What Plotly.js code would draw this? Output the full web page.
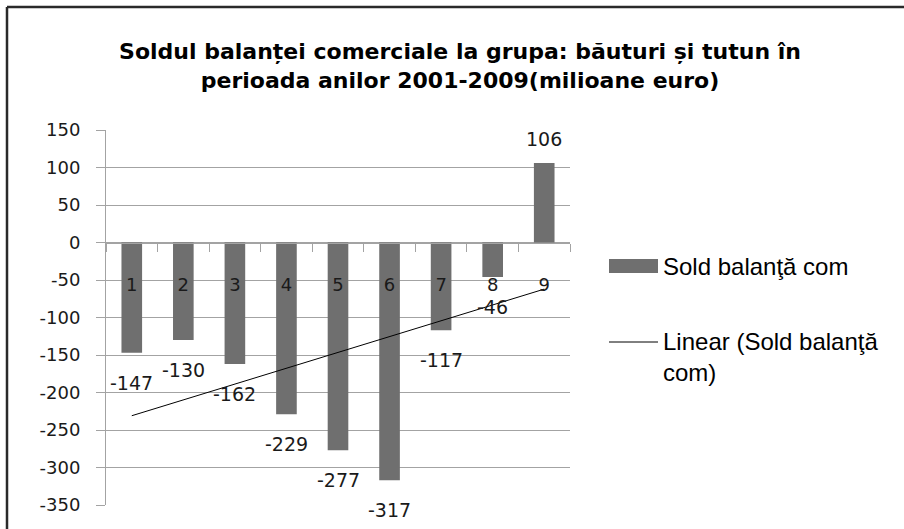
<!DOCTYPE html>
<html>
<head>
<meta charset="utf-8">
<script src="https://cdn.plot.ly/plotly-3.0.1.min.js"></script>
<style>
  html, body { margin: 0; padding: 0; background: #fff; }
  #chart { width: 904px; height: 529px; }
</style>
</head>
<body>
<div id="chart"></div>
<script>
const categories = ['1', '2', '3', '4', '5', '6', '7', '8', '9'];
const values = [-147, -130, -162, -229, -277, -317, -117, -46, 106];
const yTicks = [150, 100, 50, 0, -50, -100, -150, -200, -250, -300, -350];
const seriesName = 'Sold balanţă com';
const trendName = 'Linear (Sold balanţă com)';
const titleText = 'Soldul balanței comerciale la grupa: băuturi și tutun în<br>perioada anilor 2001-2009(milioane euro)';

// Linear trendline (least squares over x = 1..n), as Excel does
const n = values.length;
const xs = values.map((_, i) => i + 1);
const mx = xs.reduce((a, b) => a + b, 0) / n;
const my = values.reduce((a, b) => a + b, 0) / n;
let sxy = 0, sxx = 0;
for (let i = 0; i < n; i++) { sxy += (xs[i] - mx) * (values[i] - my); sxx += (xs[i] - mx) ** 2; }
const slope = sxy / sxx;
const intercept = my - slope * mx;
const trend = xs.map(x => intercept + slope * x);

// layout geometry
const L = 106, R = 570, T = 130, B = 505, W = 904, H = 529;
const px = p => (p - L) / (R - L);
const py = p => (B - p) / (B - T);

const barColor = '#6f6f6f';
const gridColor = '#a3a3a3';
const numFont = { family: 'DejaVu Sans, sans-serif', size: 18, color: '#1a1a1a' };

const traces = [
  {
    type: 'bar', x: categories, y: values, name: seriesName,
    marker: { color: barColor }, showlegend: false, hoverinfo: 'x+y'
  },
  {
    type: 'scatter', mode: 'lines', x: categories, y: trend, name: trendName,
    line: { color: '#000', width: 1 }, showlegend: false, hoverinfo: 'skip'
  }
];

// data labels (category axis: position by category index)
const annotations = values.map((v, i) => ({
  x: i, y: v, xref: 'x', yref: 'y',
  text: String(v), showarrow: false,
  yshift: v < 0 ? -30 : 24,
  font: { family: 'DejaVu Sans, sans-serif', size: 19, color: '#1a1a1a' }
}));

annotations.push({
  xref: 'paper', yref: 'paper', x: px(661), y: py(266), xanchor: 'left', yanchor: 'middle',
  text: seriesName, showarrow: false, align: 'left',
  font: { family: 'Liberation Sans, Arial, sans-serif', size: 24, color: '#000' }
});
annotations.push({
  xref: 'paper', yref: 'paper', x: px(661), y: py(357), xanchor: 'left', yanchor: 'middle',
  text: 'Linear (Sold balanţă<br>com)', showarrow: false, align: 'left',
  font: { family: 'Liberation Sans, Arial, sans-serif', size: 24, color: '#000' }
});

const shapes = [
  // chart frame (left and top edges)
  { type: 'line', xref: 'paper', yref: 'paper', x0: px(7), x1: px(7), y0: py(H + 5), y1: py(7), line: { color: '#2a2a2a', width: 2.5 } },
  { type: 'line', xref: 'paper', yref: 'paper', x0: px(7), x1: px(W + 5), y0: py(7), y1: py(7), line: { color: '#2a2a2a', width: 2.5 } },
  // legend symbols
  { type: 'rect', xref: 'paper', yref: 'paper', x0: px(609), x1: px(658), y0: py(273), y1: py(259), fillcolor: barColor, line: { width: 0 } },
  { type: 'line', xref: 'paper', yref: 'paper', x0: px(609), x1: px(658), y0: py(342), y1: py(342), line: { color: '#000', width: 1 } }
];

const layout = {
  width: W, height: H,
  margin: { l: L, r: W - R, t: T, b: H - B, pad: 0 },
  paper_bgcolor: '#fff', plot_bgcolor: '#fff',
  title: {
    text: titleText, xref: 'paper', x: px(460), xanchor: 'center',
    yref: 'container', y: 1 - 59 / H, yanchor: 'middle',
    font: { family: 'DejaVu Sans, sans-serif', size: 22, color: '#000', weight: 'bold' }
  },
  bargap: 0.6,
  showlegend: false,
  xaxis: {
    type: 'category', range: [-0.5, 8.5], anchor: 'free', position: 0.7,
    showline: true, linecolor: gridColor, linewidth: 1,
    ticks: 'outside', tickson: 'boundaries', ticklen: 8, tickcolor: gridColor,
    ticklabelstandoff: 26, showgrid: false, zeroline: false,
    tickfont: numFont, fixedrange: true
  },
  yaxis: {
    range: [-350, 150], tickvals: yTicks, ticktext: yTicks.map(String),
    showgrid: true, gridcolor: gridColor, gridwidth: 1,
    showline: true, linecolor: gridColor, linewidth: 1,
    ticks: 'outside', ticklen: 9, tickcolor: gridColor,
    ticklabelstandoff: 12, zeroline: false,
    tickfont: numFont, fixedrange: true
  },
  annotations: annotations,
  shapes: shapes
};

Plotly.newPlot('chart', traces, layout, { displayModeBar: false, staticPlot: true });
</script>
</body>
</html>
